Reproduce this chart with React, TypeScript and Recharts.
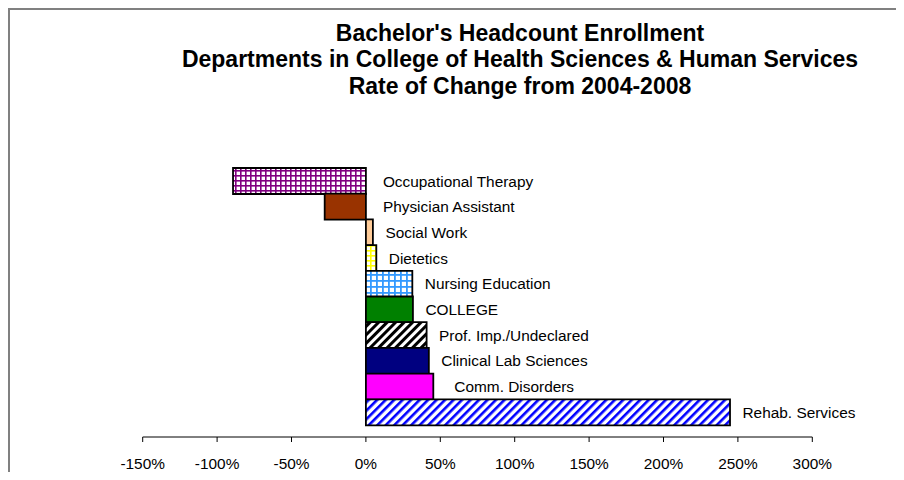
import React from 'react';
import { BarChart, Bar, XAxis, YAxis, Cell, LabelList } from 'recharts';

const FONT = '"Liberation Sans", Arial, sans-serif';

const titleLines = [
  "Bachelor's Headcount Enrollment",
  'Departments in College of Health Sciences & Human Services',
  'Rate of Change from 2004-2008',
];

const departments = [
  'Occupational Therapy',
  'Physician Assistant',
  'Social Work',
  'Dietetics',
  'Nursing Education',
  'COLLEGE',
  'Prof. Imp./Undeclared',
  'Clinical Lab Sciences',
  '\u00a0\u00a0Comm. Disorders',
  'Rehab. Services',
];

// rate of change 2004-2008 (fraction)
const rateOfChange = [-0.893, -0.277, 0.047, 0.07, 0.312, 0.316, 0.408, 0.423, 0.453, 2.447];

const xTicks = [-1.5, -1, -0.5, 0, 0.5, 1, 1.5, 2, 2.5, 3];

const FILLS = [
  'url(#gridPurple)',
  '#993300',
  '#ffcc99',
  'url(#gridYellow)',
  'url(#gridBlue)',
  '#008000',
  'url(#stripeBlack)',
  '#000080',
  '#ff00ff',
  'url(#stripeBlue)',
];

const data = departments.map((name, i) => ({ name, value: rateOfChange[i] }));

const pct = (v: number) => `${Math.round(v * 100)}%`;

const NameLabel = (props: any) => {
  const vb = props.viewBox || {};
  const x = Number(props.x ?? vb.x);
  const y = Number(props.y ?? vb.y);
  const w = Number(props.width ?? vb.width);
  const h = Number(props.height ?? vb.height);
  const idx = props.index;
  const neg = idx != null ? rateOfChange[idx] < 0 : w < 0;
  const right = Math.max(x, x + w);
  return (
    <text
      x={right + (neg ? 17 : 12.5)}
      y={y + h / 2}
      dominantBaseline="central"
      fontSize={15.4}
      fontFamily={FONT}
      fill="#000"
    >
      {props.value}
    </text>
  );
};

function Patterns() {
  return (
    <svg width={0} height={0} style={{ position: 'absolute' }}>
      <defs>
        <pattern id="gridPurple" width={5} height={5} patternUnits="userSpaceOnUse">
          <rect width={5} height={5} fill="#fff" />
          <rect width={1.6} height={5} fill="#800080" />
          <rect width={5} height={1.6} fill="#800080" />
        </pattern>
        <pattern id="gridYellow" width={5} height={5} patternUnits="userSpaceOnUse">
          <rect width={5} height={5} fill="#fff" />
          <rect width={1.6} height={5} fill="#ffff00" />
          <rect width={5} height={1.6} fill="#ffff00" />
        </pattern>
        <pattern id="gridBlue" width={6} height={6} patternUnits="userSpaceOnUse">
          <rect width={6} height={6} fill="#fff" />
          <rect width={1.8} height={6} fill="#3399ff" />
          <rect width={6} height={1.8} fill="#3399ff" />
        </pattern>
        <pattern id="stripeBlack" width={6} height={6} patternUnits="userSpaceOnUse" patternTransform="rotate(45)">
          <rect width={6} height={6} fill="#fff" />
          <rect width={3} height={6} fill="#000" />
        </pattern>
        <pattern id="stripeBlue" width={6} height={6} patternUnits="userSpaceOnUse" patternTransform="rotate(45)">
          <rect width={6} height={6} fill="#fff" />
          <rect width={2.6} height={6} fill="#0000ff" />
        </pattern>
      </defs>
    </svg>
  );
}

export default function App() {
  return (
    <div
      style={{
        width: 896,
        height: 472,
        marginBottom: -8,
        boxSizing: 'border-box',
        borderTop: '2px solid #808080',
        borderLeft: '2px solid #808080',
        position: 'relative',
        background: '#fff',
      }}
    >
      <Patterns />
      <BarChart
        width={894}
        height={462}
        data={data}
        layout="vertical"
        barCategoryGap={0}
        margin={{ top: 158, right: 91.7, bottom: 5, left: 132.7 }}
      >
        <XAxis
          type="number"
          domain={[-1.5, 3]}
          ticks={xTicks}
          tickFormatter={pct}
          height={30}
          tickSize={5}
          tickMargin={16}
          axisLine={{ stroke: '#000', strokeWidth: 1 }}
          tickLine={{ stroke: '#000' }}
          tick={{ fill: '#000', fontSize: 15.4, fontFamily: FONT }}
          allowDataOverflow
        />
        <YAxis type="category" dataKey="name" hide padding={{ top: 0, bottom: 12 }} />
        <Bar dataKey="value" stroke="#000" strokeWidth={1.8} isAnimationActive={false}>
          {data.map((d, i) => (
            <Cell key={d.name} fill={FILLS[i]} />
          ))}
          <LabelList dataKey="name" content={NameLabel} />
        </Bar>
      </BarChart>
      <svg
        width={894}
        height={120}
        style={{ position: 'absolute', left: 0, top: 0, pointerEvents: 'none' }}
      >
        {titleLines.map((t, i) => (
          <text
            key={t}
            x={510}
            y={30.5 + i * 26.5}
            textAnchor="middle"
            fontSize={23}
            fontWeight="bold"
            fontFamily={FONT}
            fill="#000"
          >
            {t}
          </text>
        ))}
      </svg>
    </div>
  );
}
